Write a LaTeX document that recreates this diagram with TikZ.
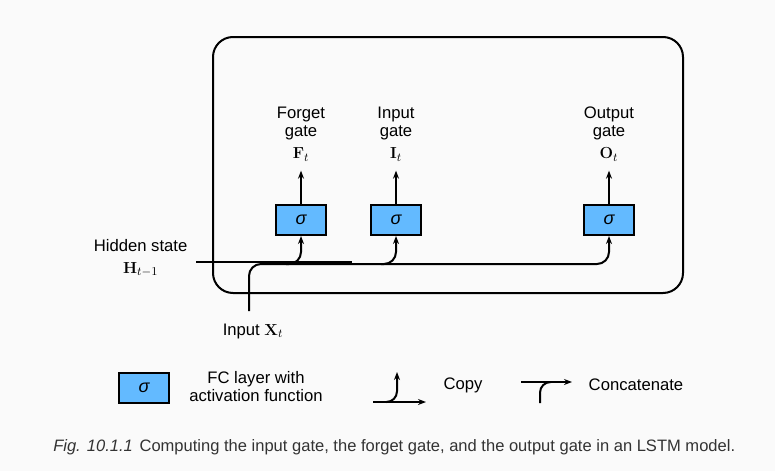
\documentclass[tikz,border=0pt]{standalone}
\usepackage{amsmath}
\usepackage{xcolor}
\usepackage[no-math]{fontspec}
\setmainfont{Liberation Sans}
\usepackage{tikz}
\usetikzlibrary{arrows.meta,positioning}

\definecolor{gatefill}{RGB}{99,186,255}
\definecolor{bgcol}{RGB}{250,250,250}
\definecolor{captxt}{RGB}{51,51,51}

\tikzset{
  flow/.style={line width=1.5pt},
  tip/.style={-{Stealth[length=6pt,width=4.5pt]}},
  gatebox/.style={draw, line width=1.5pt, fill=gatefill, minimum width=38pt,
    minimum height=22.5pt, inner sep=0pt, font=\fontsize{13.5}{15}\selectfont\itshape},
  gatelbl/.style={align=center, inner sep=2pt, font=\fontsize{12.5}{13.5}\selectfont},
  txt/.style={align=center, inner sep=1pt, font=\fontsize{12.5}{13.5}\selectfont}
}

\begin{document}
\begin{tikzpicture}[x=0.75pt,y=-0.75pt]
  \fill[bgcol] (0,0) rectangle (775,471);
  \useasboundingbox (0,0) rectangle (775,471);

  % the cell
  \draw[flow, rounded corners=15pt] (213,37) rectangle (683,293);

  % gates
  \node[gatebox] (forget) at (301,220) {σ};
  \node[gatebox] (input)  at (396,220) {σ};
  \node[gatebox] (output) at (609,220) {σ};

  \node[gatelbl, above=30pt of forget] (flab) {Forget\\gate\\[3pt]$\mathbf{F}_t$};
  \node[gatelbl, above=30pt of input]  (ilab) {Input\\gate\\[3pt]$\mathbf{I}_t$};
  \node[gatelbl, above=30pt of output] (olab) {Output\\gate\\[3pt]$\mathbf{O}_t$};

  \foreach \g/\l in {forget/flab, input/ilab, output/olab}
    \draw[flow, tip, shorten >=5pt] (\g.north) -- (\l.south);

  % inputs
  \node[txt, anchor=east] (hlab) at (189,258) {Hidden state\\[3pt]$\mathbf{H}_{t-1}$};
  \node[txt] (xlab) at (253,331) {Input $\mathbf{X}_t$};
  \coordinate (hin) at (196,262);
  \coordinate (hend) at (352,262);
  \coordinate (xin) at (249,311);
  \coordinate (fsplit) at (286,264);
  \coordinate (isplit) at (381,264);

  \draw[flow] (hin) -- (hend);
  \draw[flow, tip, rounded corners=9pt] (xin) |- (output.south |- fsplit) -- (output.south);
  \draw[flow, tip, rounded corners=9pt] (fsplit) -| (forget.south);
  \draw[flow, tip, rounded corners=9pt] (isplit) -| (input.south);

  % legend
  \node[gatebox] (lgate) at (144,388) {σ};
  \node[txt] (lgtxt) at (256,387) {FC layer with\\activation function};

  \coordinate (cpa) at (373,402);
  \coordinate (cpb) at (426,402);
  \coordinate (cpc) at (386,402);
  \coordinate (cpd) at (397,372);
  \draw[flow, tip] (cpa) -- (cpb);
  \draw[flow, tip, rounded corners=8pt] (cpc) -| (cpd);
  \node[txt] (cptxt) at (463,385) {Copy};

  \coordinate (cca) at (521,382);
  \coordinate (ccb) at (572,382);
  \coordinate (ccc) at (540,403);
  \draw[flow, tip] (cca) -- (ccb);
  \draw[flow, rounded corners=8pt] (ccc) |- (551,382);
  \node[txt] (cctxt) at (636,385) {Concatenate};

  % caption
  \node[anchor=west, inner sep=0pt, text=captxt, font=\fontsize{12.4}{14}\selectfont] (cap) at (53,447)
    {\textit{Fig. 10.1.1}\hspace{5pt}Computing the input gate, the forget gate, and the output gate in an LSTM model.};
\end{tikzpicture}
\end{document}
